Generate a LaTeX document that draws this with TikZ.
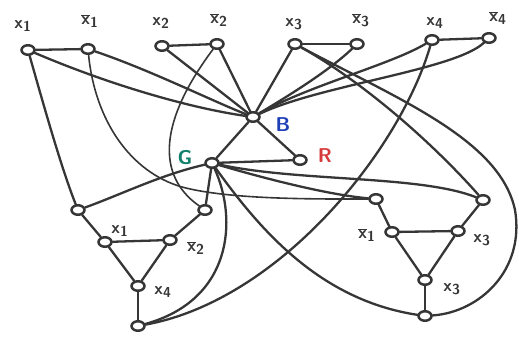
\documentclass[tikz,border=0pt]{standalone}
\usetikzlibrary{shapes.geometric,backgrounds}
\definecolor{ink}{HTML}{363636}
\definecolor{bcol}{HTML}{1E3FB8}
\definecolor{gcol}{HTML}{12806A}
\definecolor{rcol}{HTML}{D63A3A}
\newcommand{\lit}[1]{$\mathsf{x}_{\mathsf{#1}}$}
\newcommand{\nlit}[1]{$\overline{\mathsf{x}}_{\mathsf{#1}}$}
\begin{document}
\begin{tikzpicture}[x=1pt,y=-1pt,
  vert/.style={ellipse, draw=ink, line width=2.5pt, fill=white,
    minimum width=13pt, minimum height=9.5pt, inner sep=0pt},
  edge/.style={draw=ink, line width=2.3pt, line cap=round},
  thinedge/.style={draw=ink, line width=1.6pt, line cap=round},
  lbl/.style={text=ink, font=\boldmath\fontsize{19}{21}\selectfont, inner sep=0pt},
  clr/.style={font=\sffamily\bfseries\fontsize{20}{22}\selectfont, inner sep=0pt}]
\useasboundingbox (0,0) rectangle (519,339);

% variable pairs
\node[vert] (x1)  at (28,50) {};
\node[vert] (nx1) at (88,49) {};
\node[vert] (x2)  at (162,46) {};
\node[vert] (nx2) at (217,44) {};
\node[vert] (x3)  at (295,44) {};
\node[vert] (nx3) at (357,44) {};
\node[vert] (x4)  at (432,40) {};
\node[vert] (nx4) at (489,38) {};

% palette triangle
\node[vert] (B) at (253,117) {};
\node[vert] (G) at (212,163) {};
\node[vert] (R) at (300,160) {};

% clause gadget 1
\node[vert] (La) at (78,210) {};
\node[vert] (Lb) at (205,210) {};
\node[vert] (L1) at (105,242) {};
\node[vert] (L2) at (170,240) {};
\node[vert] (L4) at (138,286) {};
\node[vert] (Lo) at (138,326) {};

% clause gadget 2
\node[vert] (Ra) at (376,199) {};
\node[vert] (Rb) at (483,200) {};
\node[vert] (R1) at (392,232) {};
\node[vert] (R3) at (458,231) {};
\node[vert] (R3b) at (425,280) {};
\node[vert] (Ro) at (425,316) {};

% labels
\node[lbl] (t1)  at (23,26) {\lit{1}};
\node[lbl] (t2)  at (90,21) {\nlit{1}};
\node[lbl] (t3)  at (161,23) {\lit{2}};
\node[lbl] (t4)  at (219,20) {\nlit{2}};
\node[lbl] (t5)  at (294,24) {\lit{3}};
\node[lbl] (t6)  at (361,20) {\nlit{3}};
\node[lbl] (t7)  at (435,23) {\lit{4}};
\node[lbl] (t8)  at (498,18) {\nlit{4}};
\node[clr, text=bcol] (tB) at (283,125) {B};
\node[clr, text=gcol] (tG) at (185,158) {G};
\node[clr, text=rcol] (tR) at (325,156) {R};
\node[lbl] (u1) at (120,231) {\lit{1}};
\node[lbl] (u2) at (196,248) {\nlit{2}};
\node[lbl] (u3) at (163,292) {\lit{4}};
\node[lbl] (w1) at (367,235) {\nlit{1}};
\node[lbl] (w2) at (482,240) {\lit{3}};
\node[lbl] (w3) at (452,289) {\lit{3}};

\begin{pgfonlayer}{background}
% pairs
\draw[edge] (x1) -- (nx1);
\draw[edge] (x2) -- (nx2);
\draw[edge] (x3) -- (nx3);
\draw[edge] (x4) -- (nx4);
% literals to B
\draw[edge] (x1) .. controls (110,85) and (190,108) .. (B);
\draw[edge] (nx1) .. controls (150,70) and (210,100) .. (B);
\draw[edge] (x2) -- (B);
\draw[edge] (nx2) -- (B);
\draw[edge] (x3) -- (B);
\draw[edge] (nx3) .. controls (330,70) and (290,95) .. (B);
\draw[edge] (x4) .. controls (390,65) and (310,85) .. (B);
\draw[edge] (nx4) .. controls (455,70) and (320,85) .. (B);
% palette
\draw[edge] (B) -- (G);
\draw[edge] (B) -- (R);
\draw[edge] (G) -- (R);
% gadget 1 inner
\draw[edge] (La) -- (L1);
\draw[edge] (Lb) -- (L2);
\draw[edge] (L1) -- (L2);
\draw[edge] (L1) -- (L4);
\draw[edge] (L2) -- (L4);
\draw[edge] (L4) -- (Lo);
% gadget 2 inner
\draw[edge] (Ra) -- (R1);
\draw[edge] (Rb) -- (R3);
\draw[edge] (R1) -- (R3);
\draw[edge] (R1) -- (R3b);
\draw[edge] (R3) -- (R3b);
\draw[edge] (R3b) -- (Ro);
% literal wires into gadgets
\draw[edge] (x1) .. controls (45,110) and (62,170) .. (La);
\draw[thinedge] (nx2) .. controls (160,120) and (155,175) .. (Lb);
\draw[edge] (x4) .. controls (400,150) and (280,300) .. (Lo);
\draw[thinedge] (nx1) .. controls (95,120) and (130,172) .. (182,187)
  .. controls (230,200) and (320,199) .. (Ra);
\draw[edge] (x3) .. controls (360,80) and (430,140) .. (Rb);
\draw[edge] (x3) .. controls (400,100) and (500,140) .. (515,210)
  .. controls (525,270) and (480,312) .. (Ro);
% ground wires
\draw[edge] (G) .. controls (160,175) and (120,195) .. (La);
\draw[edge] (G) -- (Lb);
\draw[edge] (G) .. controls (238,220) and (232,300) .. (Lo);
\draw[edge] (G) .. controls (270,180) and (330,195) .. (Ra);
\draw[edge] (G) .. controls (300,182) and (420,175) .. (Rb);
\draw[edge] (G) .. controls (260,230) and (320,300) .. (Ro);
\end{pgfonlayer}
\end{tikzpicture}
\end{document}
